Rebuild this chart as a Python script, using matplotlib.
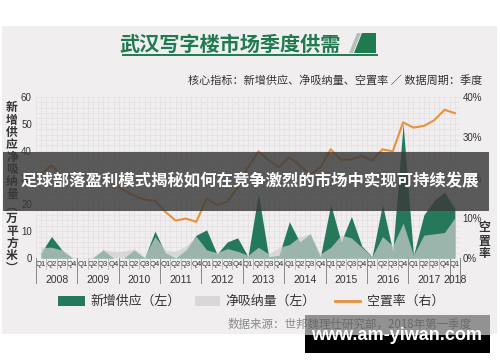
import matplotlib
matplotlib.use("Agg")
import matplotlib.pyplot as plt
from matplotlib.patches import Rectangle, Polygon
import numpy as np

plt.rcParams['font.family'] = ['Noto Sans CJK SC', 'DejaVu Sans']
NARROW = ['Liberation Sans Narrow', 'Liberation Sans', 'DejaVu Sans']

# quarters 2008Q1 .. 2018Q1
quarters = ["Q1", "Q2", "Q3", "Q4"] * 10 + ["Q1"]
years = ["2008", "2009", "2010", "2011", "2012", "2013",
         "2014", "2015", "2016", "2017", "2018"]

# 新增供应 (万平方米)
new_supply = [2, 8, 3, 0,
              0, 0, 3, 0,
              0, 3, 0, 10,
              2, 0, 3, 8.5,
              10.5, 1.5, 6, 7.5,
              0.5, 24, 0.5, 1,
              13.5, 6, 9, 0.5,
              20, 6, 15.5, 4.5,
              0.5, 20, 2.5, 50,
              1, 16, 21.5, 24.5,
              18.5]

# 净吸纳量 (万平方米)
net_absorption = [4, 4, 3, 0.5,
                  0, 0.5, 3, 2.5,
                  2.5, 3.5, 0.5, 8,
                  3, 2.5, 4.5, 8,
                  3, 2, 3.5, 2.5,
                  1, 4, 1.5, 4,
                  5, 8, 9, 1.5,
                  4, 8.5, 7.5, 4,
                  0.5, 8, 4.5, 13,
                  1, 8.5, 9, 9.5,
                  15]

# 空置率 (%)
vacancy = [21, 23, 20.5, 20.5,
           20.6, 20.6, 19.8, 18.3,
           16.8, 15.5, 14.5, 14.2,
           11.5, 9.3, 9.8, 9.0,
           14.7, 13.2, 14.0, 17.5,
           22.5, 26.5, 24.3, 22.6,
           25, 23, 20.8, 22.5,
           27, 24.4, 24.5, 25.4,
           24.2, 27, 26.5, 33.7,
           32.4, 32.8, 34.2, 36.8,
           36]

GREEN = "#25795a"
GRAY = "#d0d0d0"
ORANGE = "#e8913a"
CARD = "#f1eef0"

fig = plt.figure(figsize=(5, 3.62), dpi=100)
fig.patch.set_facecolor("white")

# background layer in pixel coordinates
bg = fig.add_axes([0, 0, 1, 1], zorder=0)
bg.set_xlim(0, 500)
bg.set_ylim(362, 0)
bg.axis("off")
bg.add_patch(Rectangle((2, 26), 495, 308, color=CARD, lw=0))

# title block
bg.text(230, 44, "武汉写字楼市场季度供需", color="#1f7a4f", fontsize=14.5,
        fontweight="bold", ha="center", va="center")
bg.plot([123, 377], [54.5, 54.5], color="#1f7a4f", lw=1.4)
bg.add_patch(Polygon([(349, 53), (357, 33), (361, 33), (353, 53)], color="#b9bdbb", lw=0))
bg.add_patch(Polygon([(354, 53), (362, 33), (376, 33), (376, 53)], color="#1f7a4f", lw=0))
bg.text(482, 80, "核心指标：新增供应、净吸纳量、空置率 ／ 数据周期：季度",
        color="#333333", fontsize=8, ha="right", va="center")

# stacked axis titles
left_title = "新增供应净吸纳量︵万平方米︶"
for k, ch in enumerate(left_title):
    bg.text(12, 108 + k * 12.3, ch, fontsize=8.5, color="#333333",
            ha="center", va="center", fontweight="bold")
for k, ch in enumerate("空置率"):
    bg.text(484, 228 + k * 13, ch, fontsize=8.5, color="#333333",
            ha="center", va="center", fontweight="bold")

# legend
bg.add_patch(Rectangle((58, 296), 27, 10, color=GREEN, lw=0))
bg.text(90, 301, "新增供应（左）", fontsize=9.3, color="#333333", va="center")
bg.add_patch(Rectangle((195, 296), 25, 10, color="#d8d8d8", lw=0))
bg.text(225, 301, "净吸纳量（左）", fontsize=9.3, color="#333333", va="center")
bg.plot([335, 360], [301, 301], color=ORANGE, lw=2)
bg.text(367, 301, "空置率（右）", fontsize=9.3, color="#333333", va="center")

bg.text(228, 324, "数据来源：世邦魏理仕研究部，2018年第一季度", fontsize=8.3,
        color="#8a8a8a", va="center")

# main chart
x = np.arange(len(quarters))
ax = fig.add_axes([36 / 500, 104 / 362, 424 / 500, 161 / 362], zorder=2)
ax.set_facecolor("none")
ax.fill_between(x, new_supply, color=GREEN, lw=0, zorder=2)
ax.fill_between(x, net_absorption, color=GRAY, alpha=0.7, lw=0, zorder=3)
ax.set_xlim(-0.5, len(quarters) - 0.5)
ax.set_ylim(0, 60)

ax.set_xticks(x)
ax.set_xticklabels(quarters, family=NARROW, fontsize=5.5, color="#333333")
ax.set_xticks(np.arange(-0.5, len(quarters), 0.5), minor=True)
ax.set_yticks(range(0, 61, 10))
ax.set_yticklabels([str(v) for v in range(0, 61, 10)], family=NARROW,
                   fontsize=7, color="#333333")
ax.set_yticks(range(0, 61, 2), minor=True)
ax.tick_params(which="both", length=0)
ax.tick_params(axis="x", pad=2.5)
ax.tick_params(axis="y", pad=3)
ax.grid(which="both", color="#e2dde2", lw=0.45, zorder=0)
for s in ax.spines.values():
    s.set_visible(False)
ax.axhline(0, color="#999999", lw=0.6, zorder=4)

# quarter boxes and year brackets under the axis
tr = ax.get_xaxis_transform()
for i in range(len(quarters) + 1):
    ax.plot([i - 0.5, i - 0.5], [0, -0.068], transform=tr, color="#aaaaaa",
            lw=0.5, clip_on=False)
for k, yr in enumerate(years):
    start = 4 * k - 0.5
    end = min(4 * k + 3.5, len(quarters) - 0.5)
    ax.plot([start, start], [0, -0.155], transform=tr, color="#888888",
            lw=0.7, clip_on=False)
    ax.text((start + end) / 2, -0.137, yr, transform=tr, ha="center",
            va="center", family=NARROW, fontsize=7.5, color="#333333")
ax.plot([len(quarters) - 0.5] * 2, [0, -0.155], transform=tr,
        color="#888888", lw=0.7, clip_on=False)

ax2 = ax.twinx()
ax2.set_ylim(0, 40)
ax2.plot(x, vacancy, color=ORANGE, lw=1.5, solid_joinstyle="round")
ax2.set_yticks(range(0, 41, 10))
ax2.set_yticklabels([f"{v}%" for v in range(0, 41, 10)], family=NARROW,
                    fontsize=7, color="#333333")
ax2.tick_params(length=0, pad=2)
for s in ax2.spines.values():
    s.set_visible(False)

# overlay banner and watermark
top = fig.add_axes([0, 0, 1, 1], zorder=10)
top.set_facecolor("none")
top.set_xlim(0, 500)
top.set_ylim(362, 0)
top.axis("off")
top.add_patch(Rectangle((3, 152), 486, 59, color="#3a3a3a", alpha=0.82, lw=0))
top.text(250, 181, "足球部落盈利模式揭秘如何在竞争激烈的市场中实现可持续发展",
         color="white", fontsize=11.8, fontweight="bold", ha="center", va="center")
top.add_patch(Rectangle((305, 315), 185, 20, color="#555555", alpha=0.6, lw=0))
top.add_patch(Rectangle((305, 335), 185, 18, color="black", lw=0))
top.text(397, 336, "www.am-yiwan.com", color="white", fontsize=13,
         fontweight="bold", family=["Liberation Sans", "DejaVu Sans"],
         ha="center", va="center")

fig.savefig("out.png", dpi=100)
